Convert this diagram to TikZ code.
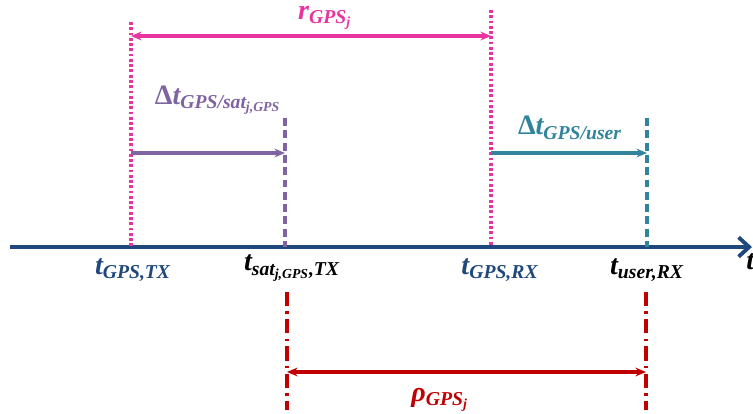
\documentclass[tikz,border=0pt]{standalone}
\usetikzlibrary{arrows.meta,positioning}
\usepackage{fontspec}
\setmainfont{Liberation Serif}
\definecolor{GPSnavy}{HTML}{1F497D}
\definecolor{GPSpink}{HTML}{E8349E}
\definecolor{GPSpurple}{HTML}{8064A2}
\definecolor{GPSteal}{HTML}{31849B}
\definecolor{GPSred}{HTML}{C00000}
\newcommand{\sbs}[1]{\textsubscript{#1}}

\begin{document}
\begin{tikzpicture}[x=0.02cm,y=-0.02cm,
  lbl/.style={font=\fontsize{16}{18}\selectfont\bfseries\itshape},
  tip/.style={-{Stealth[length=6pt,width=5pt]}},
  tips/.style={{Stealth[length=6pt,width=5pt]}-{Stealth[length=6pt,width=5pt]}},
  dotline/.style={GPSpink,line width=1.9pt,dash pattern=on 1.6pt off 1.4pt},
  dashline/.style={line width=1.9pt,dash pattern=on 4.5pt off 2.5pt},
  dashdot/.style={GPSred,line width=1.9pt,dash pattern=on 8pt off 3pt on 1.5pt off 3pt}]
\useasboundingbox (0,0) rectangle (753,413);
% time axis
\coordinate (axL) at (10,247);
\coordinate (axR) at (752,247);
\draw[GPSnavy,line width=2.2pt,-{Straight Barb[length=6pt,width=11pt]}] (axL)--(axR);
\node[lbl,anchor=west,inner sep=0pt] (tlab) at (746,262) {t};
% vertical markers
\coordinate (txTop) at (131,22);  \coordinate (txBot) at (131,247);
\coordinate (rxTop) at (491,10);  \coordinate (rxBot) at (491,247);
\coordinate (satTop) at (285,118); \coordinate (satBot) at (285,247);
\coordinate (usrTop) at (647,118); \coordinate (usrBot) at (647,247);
\coordinate (rhoL) at (287,292); \coordinate (rhoLb) at (287,410);
\coordinate (rhoR) at (646,292); \coordinate (rhoRb) at (646,410);
\draw[dashline,GPSpurple] (satTop)--(satBot);
\draw[dashline,GPSteal] (usrTop)--(usrBot);
\draw[dotline] (txTop)--(txBot);
\draw[dotline] (rxTop)--(rxBot);
\draw[dashdot] (rhoL)--(rhoLb);
\draw[dashdot] (rhoR)--(rhoRb);
% intervals
\coordinate (rA) at (131,36);   \coordinate (rB) at (491,36);
\coordinate (sA) at (131,153);  \coordinate (sB) at (285,153);
\coordinate (uA) at (491,153);  \coordinate (uB) at (647,153);
\coordinate (pA) at (287,372);  \coordinate (pB) at (646,372);
\draw[tips,GPSpink,line width=1.9pt] (rA)--(rB);
\draw[tip,GPSpurple,line width=1.9pt] (sA)--(sB);
\draw[tip,GPSteal,line width=1.9pt] (uA)--(uB);
\draw[tips,GPSred,line width=1.9pt] (pA)--(pB);
\node[lbl,text=GPSpink] (rlab) at (325,18) {r\sbs{GPS\sbs{j}}};
\node[lbl,text=GPSpurple] (slab) at (218,100) {{\upshape Δ}t\sbs{GPS/sat\sbs{j,GPS}}};
\node[lbl,text=GPSteal] (ulab) at (570,128) {{\upshape Δ}t\sbs{GPS/user}};
\node[lbl,text=GPSred] (plab) at (440,400) {ρ\sbs{GPS\sbs{j}}};
% epochs on the axis
\node[lbl,text=GPSnavy] (ttx) at (133,270) {t\sbs{GPS,TX}};
\node[lbl] (tsat) at (292,268) {t\sbs{sat\sbs{j,GPS},TX}};
\node[lbl,text=GPSnavy] (trx) at (500,270) {t\sbs{GPS,RX}};
\node[lbl] (tusr) at (647,270) {t\sbs{user,RX}};
\end{tikzpicture}
\end{document}
